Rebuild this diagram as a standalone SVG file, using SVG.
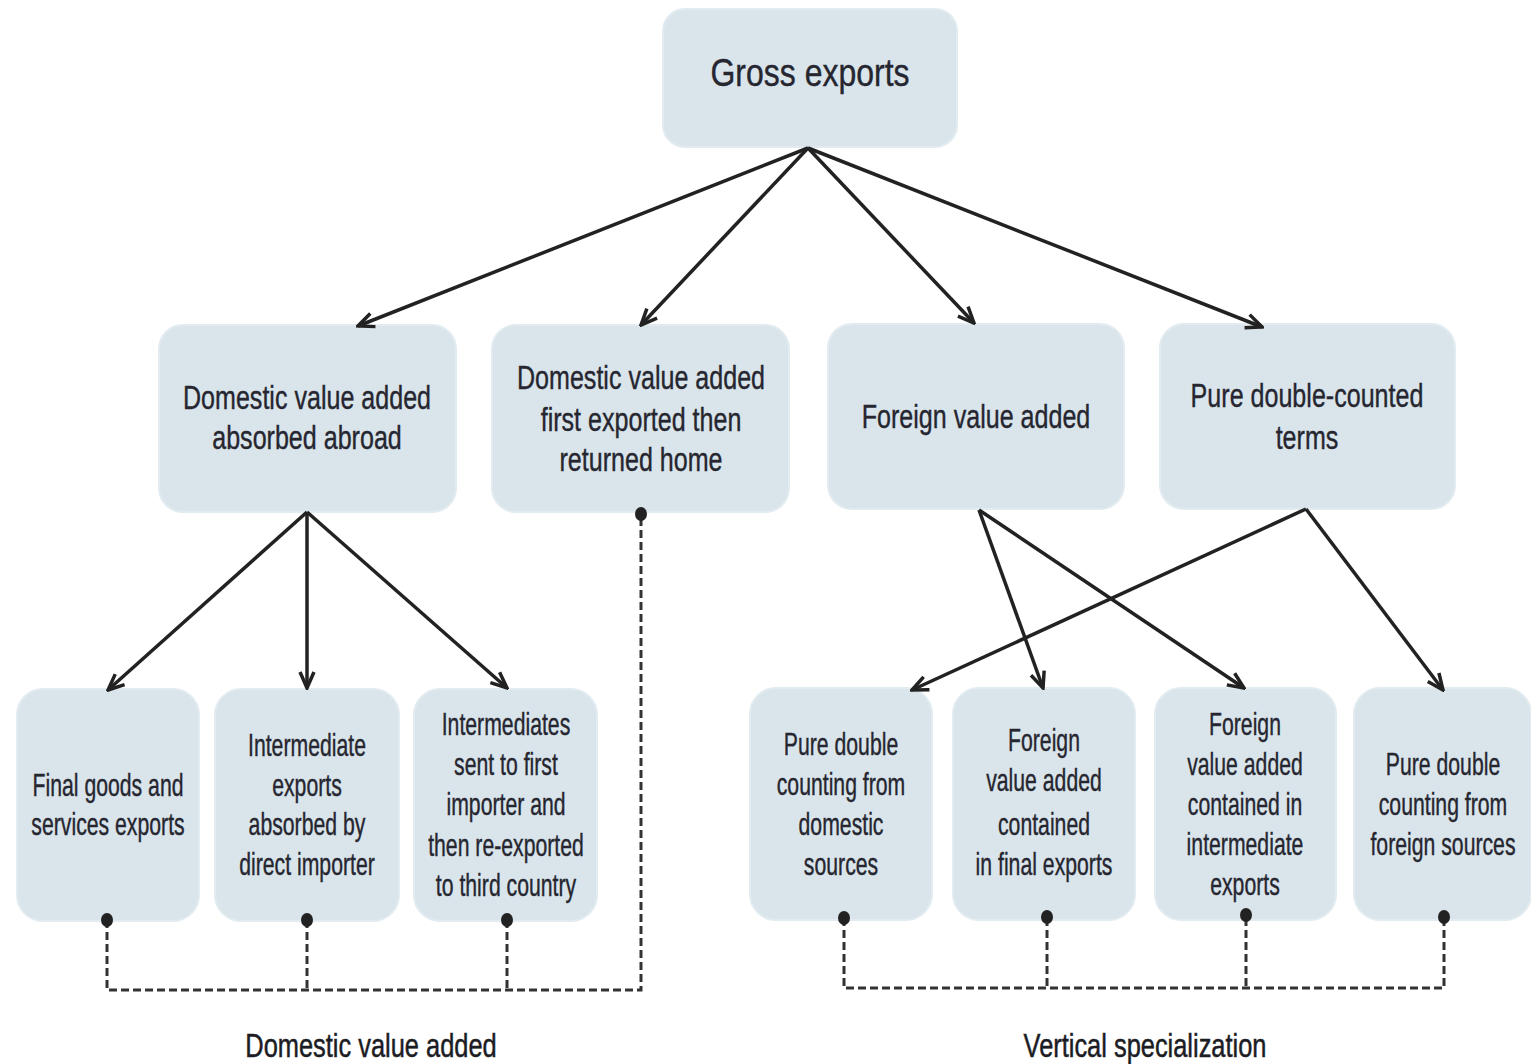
<svg xmlns="http://www.w3.org/2000/svg" width="1531" height="1064" viewBox="0 0 1531 1064">
  <style>
    .box { fill: #d9e5eb; stroke: #e2ebf0; stroke-width: 2; }
    .t { font-family: "Liberation Sans", Arial, sans-serif; fill: #262630; stroke: #262630; stroke-width: 0.4; text-anchor: middle; }
    .t0 { font-size: 39px; }
    .t1 { font-size: 33px; }
    .t2 { font-size: 31px; }
    .lbl { font-family: "Liberation Sans", Arial, sans-serif; font-size: 33px; fill: #1c1c24; stroke: #1c1c24; stroke-width: 0.5; text-anchor: middle; }
    .arrow { fill: none; stroke: #222; stroke-width: 3.5; marker-end: url(#arr); }
    .dash { fill: none; stroke: #333; stroke-width: 3; stroke-dasharray: 8 4; }
    .dot { fill: #222; }
  </style>
  <defs>
    <marker id="arr" viewBox="0 0 20 18" refX="18" refY="9" markerWidth="20" markerHeight="18" orient="auto" markerUnits="userSpaceOnUse">
      <path d="M2,2 L18,9 L2,16" fill="none" stroke="#222" stroke-width="3.5"/>
    </marker>
  </defs>
  <rect width="1531" height="1064" fill="#ffffff"/>

  <!-- top node -->
  <g id="gross-exports">
    <rect class="box" x="663" y="9" width="294" height="138" rx="22"/>
    <text class="t t0" transform="translate(810 0) scale(0.82 1)"><tspan x="0" y="86">Gross exports</tspan></text>
  </g>

  <!-- second level -->
  <g id="dva-absorbed">
    <rect class="box" x="159" y="325" width="297" height="187" rx="24"/>
    <text class="t t1" transform="translate(307 0) scale(0.76 1)"><tspan x="0" y="409">Domestic value added</tspan><tspan x="0" y="449">absorbed abroad</tspan></text>
  </g>
  <g id="dva-returned">
    <rect class="box" x="492" y="325" width="297" height="187" rx="24"/>
    <text class="t t1" transform="translate(641 0) scale(0.76 1)"><tspan x="0" y="389">Domestic value added</tspan><tspan x="0" y="431">first exported then</tspan><tspan x="0" y="471">returned home</tspan></text>
  </g>
  <g id="fva">
    <rect class="box" x="828" y="324" width="296" height="185" rx="24"/>
    <text class="t t1" transform="translate(976 0) scale(0.76 1)"><tspan x="0" y="428">Foreign value added</tspan></text>
  </g>
  <g id="pdc">
    <rect class="box" x="1160" y="324" width="295" height="185" rx="24"/>
    <text class="t t1" transform="translate(1307 0) scale(0.76 1)"><tspan x="0" y="407">Pure double-counted</tspan><tspan x="0" y="449">terms</tspan></text>
  </g>

  <!-- third level -->
  <g id="final-goods">
    <rect class="box" x="17" y="689" width="182" height="232" rx="26"/>
    <text class="t t2" transform="translate(108 0) scale(0.685 1)"><tspan x="0" y="796">Final goods and</tspan><tspan x="0" y="835">services exports</tspan></text>
  </g>
  <g id="intermediate-direct">
    <rect class="box" x="215" y="689" width="184" height="232" rx="26"/>
    <text class="t t2" transform="translate(307 0) scale(0.685 1)"><tspan x="0" y="756">Intermediate</tspan><tspan x="0" y="796">exports</tspan><tspan x="0" y="835">absorbed by</tspan><tspan x="0" y="875">direct importer</tspan></text>
  </g>
  <g id="intermediate-reexported">
    <rect class="box" x="414" y="689" width="183" height="232" rx="26"/>
    <text class="t t2" transform="translate(506 0) scale(0.685 1)"><tspan x="0" y="735">Intermediates</tspan><tspan x="0" y="775">sent to first</tspan><tspan x="0" y="815">importer and</tspan><tspan x="0" y="856">then re-exported</tspan><tspan x="0" y="896">to third country</tspan></text>
  </g>
  <g id="pdc-domestic">
    <rect class="box" x="750" y="688" width="182" height="232" rx="26"/>
    <text class="t t2" transform="translate(841 0) scale(0.685 1)"><tspan x="0" y="755">Pure double</tspan><tspan x="0" y="795">counting from</tspan><tspan x="0" y="835">domestic</tspan><tspan x="0" y="875">sources</tspan></text>
  </g>
  <g id="fva-final">
    <rect class="box" x="953" y="688" width="182" height="232" rx="26"/>
    <text class="t t2" transform="translate(1044 0) scale(0.685 1)"><tspan x="0" y="751">Foreign</tspan><tspan x="0" y="791">value added</tspan><tspan x="0" y="835">contained</tspan><tspan x="0" y="875">in final exports</tspan></text>
  </g>
  <g id="fva-intermediate">
    <rect class="box" x="1155" y="688" width="181" height="232" rx="26"/>
    <text class="t t2" transform="translate(1245 0) scale(0.685 1)"><tspan x="0" y="735">Foreign</tspan><tspan x="0" y="775">value added</tspan><tspan x="0" y="815">contained in</tspan><tspan x="0" y="855">intermediate</tspan><tspan x="0" y="895">exports</tspan></text>
  </g>
  <g id="pdc-foreign">
    <rect class="box" x="1354" y="688" width="177" height="232" rx="26"/>
    <text class="t t2" transform="translate(1443 0) scale(0.685 1)"><tspan x="0" y="775">Pure double</tspan><tspan x="0" y="815">counting from</tspan><tspan x="0" y="855">foreign sources</tspan></text>
  </g>

  <!-- connectors, drawn over the boxes so the end dots sit on the edges -->
  <g id="connectors">
    <path class="arrow" d="M808,148 L358,326"/>
    <path class="arrow" d="M808,148 L641,325"/>
    <path class="arrow" d="M808,148 L974,323"/>
    <path class="arrow" d="M808,148 L1262,327"/>
    <path class="arrow" d="M307,512 L108,690"/>
    <path class="arrow" d="M307,512 L307,688"/>
    <path class="arrow" d="M307,512 L507,688"/>
    <path class="arrow" d="M979,510 L1043,688"/>
    <path class="arrow" d="M979,510 L1244,688"/>
    <path class="arrow" d="M1306,509 L912,690"/>
    <path class="arrow" d="M1306,509 L1443,690"/>
    <path class="dash" d="M107,920 V990 H641 V513"/>
    <path class="dash" d="M307,920 V990"/>
    <path class="dash" d="M507,920 V990"/>
    <path class="dash" d="M844,918 V988 H1444 V918"/>
    <path class="dash" d="M1047,918 V988"/>
    <path class="dash" d="M1246,918 V988"/>
    <ellipse class="dot" cx="107" cy="920" rx="6" ry="7"/>
    <ellipse class="dot" cx="307" cy="920" rx="6" ry="7"/>
    <ellipse class="dot" cx="507" cy="920" rx="6" ry="7"/>
    <ellipse class="dot" cx="641" cy="514" rx="6" ry="7"/>
    <ellipse class="dot" cx="844" cy="918" rx="6" ry="7"/>
    <ellipse class="dot" cx="1047" cy="917" rx="6" ry="7"/>
    <ellipse class="dot" cx="1246" cy="915" rx="6" ry="7"/>
    <ellipse class="dot" cx="1444" cy="917" rx="6" ry="7"/>
  </g>

  <!-- group labels -->
  <text class="lbl" transform="translate(371 0) scale(0.77 1)"><tspan x="0" y="1057">Domestic value added</tspan></text>
  <text class="lbl" transform="translate(1145 0) scale(0.77 1)"><tspan x="0" y="1057">Vertical specialization</tspan></text>
</svg>
